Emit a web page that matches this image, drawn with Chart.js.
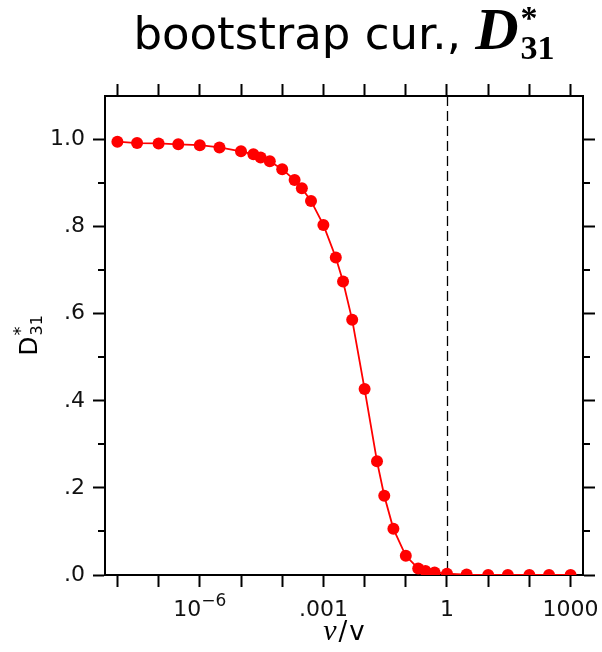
<!DOCTYPE html>
<html>
<head>
<meta charset="utf-8">
<title>bootstrap cur., D*31</title>
<script src="https://cdn.jsdelivr.net/npm/chart.js@4"></script>
<style>
  body { margin: 0; background: #fff; }
  canvas { display: block; }
</style>
</head>
<body>
<canvas id="chart" width="602" height="652"></canvas>
<script>
// nu / v ratio (x, log scale)
const nuRatio = [
  1e-8, 3e-8, 1e-7, 3e-7, 1e-6, 3e-6, 1e-5, 2e-5, 3e-5, 5e-5,
  1e-4, 2e-4, 3e-4, 5e-4, 1e-3, 2e-3, 3e-3, 5e-3, 1e-2, 2e-2,
  3e-2, 5e-2, 0.1, 0.2, 0.3, 0.5, 1, 3, 10, 30, 100, 300, 1000,
];

// D*31 values
const dStar31 = [
  0.995, 0.992, 0.991, 0.989, 0.987, 0.982, 0.973, 0.966, 0.959, 0.95,
  0.932, 0.907, 0.888, 0.859, 0.804, 0.729, 0.674, 0.586, 0.427, 0.261,
  0.182, 0.106, 0.044, 0.015, 0.009, 0.006, 0.003, 0.001, 0, 0, 0, 0, 0,
];

// tick marks
const xDecades = [1e-8, 1e-7, 1e-6, 1e-5, 1e-4, 1e-3, 1e-2, 0.1, 1, 10, 100, 1000];
const xLabelled = [
  { value: 1e-6, base: "10", sup: "\u22126" },
  { value: 1e-3, base: ".001", sup: "" },
  { value: 1, base: "1", sup: "" },
  { value: 1000, base: "1000", sup: "" },
];
const yMajor = [0, 0.2, 0.4, 0.6, 0.8, 1.0];
const yMinor = [0.1, 0.3, 0.5, 0.7, 0.9];
const yLabels = [".0", ".2", ".4", ".6", ".8", "1.0"];

const SANS = '"DejaVu Sans"';
const SERIF = '"Liberation Serif"';

// draw a row of text pieces with their own fonts, centred on cx
const drawRuns = (ctx, runs, cx, baseY) => {
  let total = 0;
  for (const r of runs) {
    ctx.font = r.font;
    r.w = ctx.measureText(r.text).width;
    if (!r.stack) total += r.w + (r.gap || 0);
  }
  let x = cx - total / 2;
  for (const r of runs) {
    ctx.font = r.font;
    ctx.fillText(r.text, x + (r.dx || 0), baseY + (r.dy || 0));
    if (!r.stack) x += r.w + (r.gap || 0);
  }
};

const decorations = {
  id: "decorations",
  beforeDatasetsDraw(chart) {
    const { ctx, chartArea, scales } = chart;
    // dashed line at nu/v = 1
    const x1 = Math.round(scales.x.getPixelForValue(1)) + 0.5;
    ctx.save();
    ctx.strokeStyle = "#000";
    ctx.lineWidth = 1.3;
    ctx.setLineDash([10, 5]);
    ctx.beginPath();
    ctx.moveTo(x1, chartArea.top);
    ctx.lineTo(x1, chartArea.bottom);
    ctx.stroke();
    ctx.restore();
  },
  afterDraw(chart) {
    const { ctx, chartArea, scales } = chart;
    const cx = (chartArea.left + chartArea.right) / 2;
    ctx.save();
    ctx.fillStyle = "#000";
    ctx.textBaseline = "alphabetic";
    ctx.textAlign = "left";

    // minor y ticks, left and right
    ctx.strokeStyle = "#000";
    ctx.lineWidth = 2;
    for (const v of yMinor) {
      const y = Math.round(scales.y.getPixelForValue(v));
      ctx.beginPath();
      ctx.moveTo(chartArea.left - 7, y);
      ctx.lineTo(chartArea.left, y);
      ctx.moveTo(chartArea.right, y);
      ctx.lineTo(chartArea.right + 7, y);
      ctx.stroke();
    }

    // x tick labels (with superscript)
    ctx.fillStyle = "#111";
    for (const t of xLabelled) {
      const px = scales.x.getPixelForValue(t.value);
      const runs = [{ text: t.base, font: "22px " + SANS }];
      if (t.sup) runs.push({ text: t.sup, font: "17px " + SANS, dy: -10 });
      drawRuns(ctx, runs, px, 616);
    }
    ctx.fillStyle = "#000";

    // title
    drawRuns(ctx, [
      { text: "bootstrap cur., ", font: "45px " + SANS },
      { text: "D", font: "italic bold 60px " + SERIF, gap: 2 },
      { text: "*", font: "bold 34px " + SERIF, dy: -20, stack: true },
      { text: "31", font: "bold 34px " + SERIF, dy: 10 },
    ], cx, 49);

    // x axis title
    drawRuns(ctx, [
      { text: "\u03bd", font: "italic 30px " + SERIF, gap: 2 },
      { text: "/", font: "26px " + SANS, gap: 2 },
      { text: "v", font: "26px " + SANS },
    ], cx, 640);

    // y axis title, rotated
    const cy = (chartArea.top + chartArea.bottom) / 2;
    ctx.translate(37, cy);
    ctx.rotate(-Math.PI / 2);
    drawRuns(ctx, [
      { text: "D", font: "25px " + SANS, gap: 1 },
      { text: "*", font: "18px " + SANS, dy: -11, stack: true },
      { text: "31", font: "16px " + SANS, dy: 5 },
    ], 0, 0);
    ctx.restore();
  },
};

const axisLine = { display: true, color: "#000", width: 2 };
const tickMarks = {
  drawOnChartArea: false,
  drawTicks: true,
  tickLength: 12,
  tickWidth: 2,
  tickColor: "#000",
};

const xAxis = (position, height) => ({
  type: "logarithmic",
  position: position,
  min: 5e-9,
  max: 2000,
  afterBuildTicks: (scale) => {
    scale.ticks = xDecades.map((v) => ({ value: v }));
  },
  afterFit: (scale) => {
    scale.height = height;
  },
  ticks: { display: false },
  grid: tickMarks,
  border: axisLine,
});

const yAxis = (position, width, showLabels) => ({
  type: "linear",
  position: position,
  min: 0,
  max: 1.1,
  afterBuildTicks: (scale) => {
    scale.ticks = yMajor.map((v) => ({ value: v }));
  },
  afterFit: (scale) => {
    scale.width = width;
  },
  ticks: {
    display: showLabels,
    padding: 8,
    color: "#111",
    font: { family: "DejaVu Sans", size: 22 },
    callback: (value) => yLabels[yMajor.findIndex((v) => Math.abs(v - value) < 1e-9)],
  },
  grid: tickMarks,
  border: axisLine,
});

new Chart(document.getElementById("chart"), {
  type: "line",
  plugins: [decorations],
  data: {
    datasets: [
      {
        data: nuRatio.map((x, i) => ({ x: x, y: dStar31[i] })),
        borderColor: "#ff0000",
        backgroundColor: "#ff0000",
        borderWidth: 1.8,
        pointRadius: 6,
        pointHoverRadius: 6,
        pointBorderWidth: 0,
        tension: 0,
        // points sitting on zero are cut by the bottom axis
        clip: { left: 10, right: 10, top: 10, bottom: 0 },
      },
    ],
  },
  options: {
    responsive: false,
    animation: false,
    devicePixelRatio: 1,
    layout: { padding: 0 },
    plugins: {
      legend: { display: false },
      tooltip: { enabled: false },
      title: { display: false },
    },
    scales: {
      x: xAxis("bottom", 77),
      x2: xAxis("top", 96),
      y: yAxis("left", 105, true),
      y2: yAxis("right", 19, false),
    },
  },
});
</script>
</body>
</html>
